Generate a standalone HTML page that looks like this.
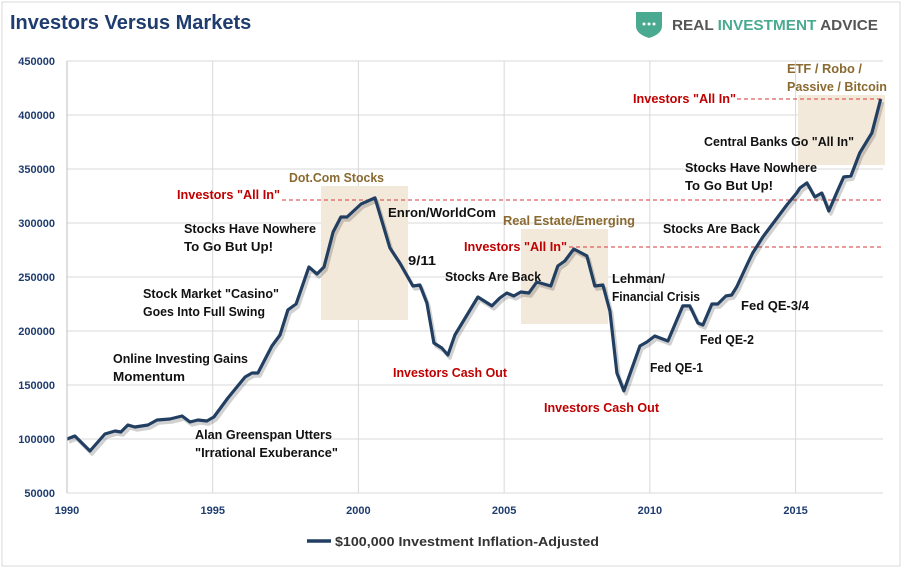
<!DOCTYPE html>
<html><head><meta charset="utf-8"><style>
body{margin:0;background:#fff;width:904px;height:570px;overflow:hidden;font-family:"Liberation Sans",sans-serif}
svg text{font-family:"Liberation Sans",sans-serif}
</style></head><body>
<svg id="c" width="904" height="570">
<rect x="2" y="2" width="898" height="564" fill="#fff" stroke="#d9d9d9"/>
<text x="10" y="29" font-size="20" font-weight="bold" fill="#1f3c6e">Investors Versus Markets</text>
<g>
<path d="M636 12 h26 v14 q0 8 -13 12 q-13 -4 -13 -12z" fill="#4aaa8f"/>
<circle cx="644" cy="24" r="1.5" fill="#fff"/><circle cx="649" cy="24" r="1.5" fill="#fff"/><circle cx="654" cy="24" r="1.5" fill="#fff"/>
<text x="672" y="30" font-size="15" font-weight="bold" fill="#555" textLength="206" lengthAdjust="spacingAndGlyphs">REAL <tspan fill="#4aaa8f">INVESTMENT</tspan> ADVICE</text>
</g>
<g id="grid"></g>
<g id="ann"></g>
<g id="plot"></g>
<g id="axes"></g>
<g>
<line x1="307" y1="541" x2="331" y2="541" stroke="#223f62" stroke-width="3.5"/>
<text x="335" y="546" font-size="13" font-weight="bold" fill="#333" textLength="264" lengthAdjust="spacingAndGlyphs">$100,000 Investment Inflation-Adjusted</text>
</g>
</svg>
<script>
const years=[1990.00,1990.27,1990.79,1991.30,1991.65,1991.85,1992.09,1992.33,1992.78,1993.09,1993.53,1993.95,1994.22,1994.49,1994.80,1995.04,1995.52,1996.11,1996.35,1996.55,1997.03,1997.31,1997.58,1997.86,1998.30,1998.58,1998.82,1999.13,1999.40,1999.61,2000.09,2000.57,2001.08,2001.42,2001.87,2002.11,2002.35,2002.59,2002.86,2003.07,2003.31,2004.10,2004.58,2004.85,2005.09,2005.33,2005.57,2005.85,2006.12,2006.60,2006.84,2007.08,2007.39,2007.84,2008.11,2008.39,2008.63,2008.87,2009.11,2009.66,2009.90,2010.17,2010.62,2011.13,2011.37,2011.65,2011.82,2012.13,2012.33,2012.61,2012.81,2012.98,2013.36,2013.53,2013.88,2014.70,2015.04,2015.15,2015.39,2015.66,2015.90,2016.14,2016.42,2016.65,2016.90,2017.20,2017.62,2017.92];
const values=[100000,102800,88900,104600,107400,106500,113000,111100,113000,117600,118500,121300,115700,117600,116700,120400,138000,157400,161100,161100,186100,196300,219500,225000,259300,252800,259300,291700,305600,305600,317600,323200,276900,263000,241700,242600,225900,188900,184300,177800,196300,231500,223200,230600,235200,232400,236100,235200,245400,241700,260200,264800,275900,269500,241700,242600,218500,161100,144500,186100,189800,195400,190700,223200,223200,207400,205600,225000,225000,232400,233300,240800,263000,272200,287100,316700,327800,332400,337100,324100,327800,311100,328700,342600,343500,364800,383400,414800];
const yTicks=[50000,100000,150000,200000,250000,300000,350000,400000,450000];
const xTicks=[1990,1995,2000,2005,2010,2015];
const NS="http://www.w3.org/2000/svg";
const X0=67,X1=883,Y0=493,Y1=61;
function xs(y){return X0+(y-1990)/28*(X1-X0);}
function ys(v){return Y0-(v-50000)/400000*(Y0-Y1);}
function mk(p,tag,at){const e=document.createElementNS(NS,tag);for(const k in at)e.setAttribute(k,at[k]);p.appendChild(e);return e;}
const grid=document.getElementById('grid'),axes=document.getElementById('axes');
yTicks.forEach(t=>{
 const l=mk(grid,'line',{x1:X0,x2:X1,y1:ys(t),y2:ys(t),stroke:'#d9d9d9','stroke-width':1});
 
 
 const tx=mk(axes,'text',{x:55,y:ys(t)+4,'text-anchor':'end','font-size':11,'font-weight':'bold',fill:'#1f3c6e'});
 tx.textContent=t;
 
 
});
xTicks.forEach(t=>{
 const l=mk(grid,'line',{x1:xs(t),x2:xs(t),y1:Y1,y2:Y0,stroke:'#d9d9d9','stroke-width':1});
 
 
 const tx=mk(axes,'text',{x:xs(t),y:514,'text-anchor':'middle','font-size':11,'font-weight':'bold',fill:'#1f3c6e'});
 tx.textContent=t;
 
 
});
const ax=mk(axes,'line',{x1:X0,x2:X0,y1:Y1,y2:Y0,stroke:'#bfbfbf'});


const ann=document.getElementById('ann');
[[321,186,87,134],[521,229,87,95],[798,95,87,70]].forEach(b=>{
 const r=mk(ann,'rect',{x:b[0],y:b[1],width:b[2],height:b[3],fill:'#f3e9db'});
 
 
});
[[737,99],[282,200],[569,247]].forEach(d=>{
 const l=mk(ann,'line',{x1:d[0],x2:883,y1:d[1],y2:d[1],stroke:'#d43a3a','stroke-dasharray':'4,3','stroke-width':1});
 
 
});
const labels=[
["Dot.Com Stocks",289,182,'#8a6a30',95],["Real Estate/Emerging",503,225,'#8a6a30',132],["ETF / Robo /",787,73,'#8a6a30',75],["Passive / Bitcoin",787,91,'#8a6a30',100],
['Investors "All In"',177,199,'#c00000',103],['Investors "All In"',464,251,'#c00000',103],['Investors "All In"',633,103,'#c00000',103],
["Investors Cash Out",393,377,'#c00000',114],["Investors Cash Out",544,412,'#c00000',115],
["Enron/WorldCom",388,217,'#111',108],["9/11",408,265,'#111',28],["Stocks Are Back",445,281,'#111',96],["Lehman/",612,283,'#111',53],["Financial Crisis",612,301,'#111',88],
["Stocks Have Nowhere",184,233,'#111',132],["To Go But Up!",184,251,'#111',89],["Stock Market \"Casino\"",143,298,'#111',136],["Goes Into Full Swing",143,316,'#111',122],
["Online Investing Gains",113,363,'#111',135],["Momentum",113,381,'#111',72],["Alan Greenspan Utters",195,439,'#111',137],["\"Irrational Exuberance\"",195,457,'#111',143],
["Fed QE-1",650,372,'#111',53],["Fed QE-2",700,344,'#111',54],["Fed QE-3/4",741,310,'#111',68],["Stocks Are Back",663,233,'#111',97],
["Stocks Have Nowhere",685,172,'#111',132],["To Go But Up!",685,190,'#111',88],["Central Banks Go \"All In\"",704,146,'#111',150]];
labels.forEach(a=>{
 const t=mk(ann,'text',{x:a[1],y:a[2],'font-size':13,'font-weight':'bold',fill:a[3],textLength:a[4],lengthAdjust:'spacingAndGlyphs'});
 t.textContent=a[0];
 
 
});
const plot=document.getElementById('plot');
const d=years.map((y,i)=>(i?'L':'M')+xs(y).toFixed(1)+' '+ys(values[i]).toFixed(1)).join(' ');
const sh=mk(plot,'path',{d:d,fill:'none',stroke:'#000','stroke-opacity':0.18,'stroke-width':3.5,transform:'translate(2,3)','stroke-linejoin':'round'});


const ln=mk(plot,'path',{d:d,fill:'none',stroke:'#223f62','stroke-width':3.2,'stroke-linejoin':'round'});


</script>
</body></html>
